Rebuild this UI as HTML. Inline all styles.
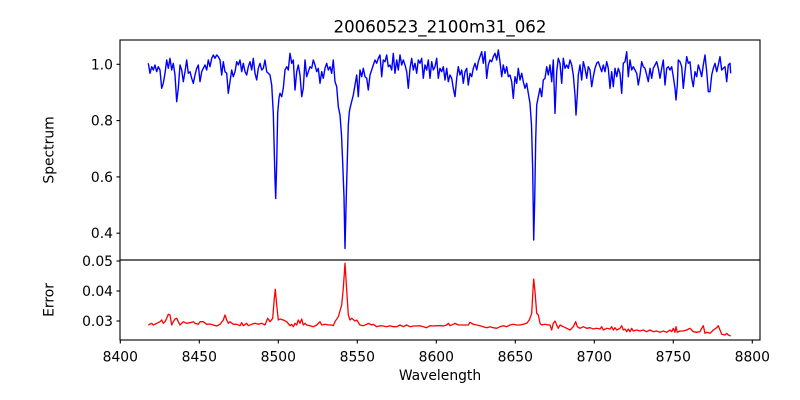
<!DOCTYPE html>
<html>
<head>
<meta charset="utf-8">
<style>
  html,body{margin:0;padding:0;background:#fff;}
  svg{display:block;}
  text{font-family:"DejaVu Sans","Liberation Sans",sans-serif;fill:#000;}
</style>
</head>
<body>
<svg width="800" height="400" viewBox="0 0 800 400" xmlns="http://www.w3.org/2000/svg">
  <rect x="0" y="0" width="800" height="400" fill="#fff"/>

  <!-- Title -->
  <text x="440" y="32.5" font-size="16.67" text-anchor="middle">20060523_2100m31_062</text>

  <!-- Spectrum line -->
  <polyline fill="none" stroke="#0000ff" stroke-width="1.4" stroke-linejoin="round" points="
148.3,63.3 150,73.3 151.7,66.7 153.3,70 155,65 156.7,71.7 158.3,66.7 160,70 161.7,88.3 163.3,83.3 165,73.3 166.7,60 168.3,68.3 170,58.3 171.7,70 173.3,63.3 175,75 176.7,101.7 178.3,88.3 180,65 181.7,70 183.3,81.7 185,71.7 186.7,60 188.3,73.3 190,71.7 191.7,78.3 193.3,83.3 195,75 196.7,68.3 198.3,65 200,81.7 201.7,71.7 203.3,68.3 205,65 206.7,70 208.3,60 210,66.7 211.7,58.3 213.3,55 215,58.3 216.7,55 218.3,56.7 220,60 221.7,75 223.3,61.7 225,71.7 226.7,73.3 228.3,93.3 230,81.7 231.7,70 233.3,76.7 235,71.7 236.7,61.7 238.3,65 240,60 241.7,71.7 243.3,63.3 245,71.7 246.7,75 248.3,66.7 250,61.7 251.7,70 253.3,58.3 255,73.3 256.7,80 258.3,68.3 260,63.3 261.7,70 263.3,68.3 265,60 266.7,71.7 268.3,73.3 270,75 271.7,85 273.3,113 275,180 275.7,198.5 276.7,163 277.7,113 279,98 280,93.3 281.7,96.7 283.3,88.3 285,70 286.7,66.7 288.3,70 290,53.3 291.7,63.3 293.3,60 295,90 296.7,71.7 298.3,65 300,75 301.7,96.7 303.3,88.3 305,60 306.7,76.7 308.3,71.7 310,66.7 311.7,68.3 313.3,60 315,65 316.7,71.7 318.3,68.3 320,83.3 321.7,71.7 323.3,78.3 325,68.3 326.7,63.3 328.3,70 330,66.7 331.7,73.3 333.3,60 335,81.7 336.7,86.7 338.3,106.7 340,115 341.5,135 342.7,163 344,197 345,248.5 346.2,200 347.3,160 348.3,125 349.3,112 350,108.3 353.3,95 356.7,75 358.3,96.7 360,70 361.7,76.7 363.3,68.3 365,76.7 366.7,78.3 368.3,90 370,75 371.7,70 373.3,65 375,60 376.7,63.3 378.3,58.3 380,55 381.7,76.7 383.3,60 385,61.7 386.7,55 388.3,66.7 390,65 391.7,70 393.3,53.3 395,73.3 396.7,60 398.3,70 400,55 401.7,65 403.3,60 405,65 406.7,71.7 408.3,88.3 410,68.3 411.7,58.3 413.3,70 415,63.3 416.7,73.3 418.3,60 420,63.3 421.7,58.3 423.3,78.3 425,65 426.7,70 428.3,60 430,78.3 431.7,61.7 433.3,70 435,66.7 436.7,58.3 438.3,78.3 440,68.3 441.7,71.7 443.3,66.7 445,80 446.7,68.3 448.3,81.7 450,75 451.7,78.3 453.3,88.3 455,96.7 456.7,78.3 458.3,66.7 460,75 461.7,70 463.3,83.3 465,71.7 466.7,68.3 468.3,85 470,73.3 471.7,76.7 473.3,68.3 475,63.3 476.7,70 478.3,61.7 480,56.7 481.7,51.7 483.3,63.3 485,51.7 486.7,78.3 488.3,65 490,60 491.7,61.7 493.3,56.7 495,53.3 496.7,60 498.3,50 500,61.7 501.7,76.7 503.3,65 505,73.3 506.7,66.7 508.3,76.7 510,75 511.7,81.7 513.3,98.3 515,76.7 516.7,83.3 518.3,68.3 520,80 521.7,73.3 523.3,81.7 525,88.3 526.7,83.3 528.3,93.3 530,103.3 531.5,125 532.7,170 533.7,240 534.7,200 535.7,140 536.7,105 538.3,96.7 540,88.3 541.7,96.7 543.3,80 545,78.3 546.7,66.7 548.3,75 550,65 551.7,81.7 553.3,60 555,113.3 556.7,71.7 558.3,58.3 560,63.3 561.7,83.3 563.3,58.3 565,68.3 566.7,65 568.3,68.3 570,60 571.7,65 573.3,75 575,95 576,115 577.3,95 578.3,75 580,65 581.7,80 583.3,61.7 585,68.3 586.7,78.3 588.3,66.7 590,70 591.7,86.7 593.3,76.7 595,68.3 596.7,63.3 598.3,61.7 600,66.7 601.7,71.7 603.3,65 605,71.7 606.7,61.7 608.3,68.3 610,88.3 611.7,71.7 613.3,86.7 615,68.3 616.7,76.7 618.3,68.3 620,73.3 621.7,93.3 623.3,63.3 625,61.7 626.7,51.7 628.3,76.7 630,60 631.7,70 633.3,66.7 635,70 636.7,73.3 638.3,85 640,75 641.7,61.7 643.3,66.7 645,68.3 646.7,75 648.3,81.7 650,68.3 651.7,78.3 653.3,68.3 655,65 656.7,61.7 658.3,68.3 660,78.3 661.7,68.3 663.3,60 665,85 666.7,68.3 668.3,66.7 670,70 671.7,66.7 673.3,76.7 675,88.3 676,100 677.3,85 678.3,60 680,61.7 681.7,66.7 683.3,88.3 685,71.7 686.7,56.7 688.3,63.3 690,61.7 691.7,78.3 693.3,86.7 695,71.7 696.7,76.7 698.3,65 700,70 701.7,76.7 703.3,65 705,55 706.7,71.7 708.3,91.7 710,91.7 711.7,75 713.3,68.3 715,63.3 716.7,71.7 718.3,65 720,56.7 721.7,70 723.3,68.3 725,66.7 726.7,81.7 728.3,65 730,63.3 730.7,73.3"/>

  <!-- Error line -->
  <polyline fill="none" stroke="#ff0000" stroke-width="1.3" stroke-linejoin="round" points="
148.3,325 151.7,323.3 153.3,325 156.7,323.3 160,321.7 161.7,320 163.3,323.3 165,321.7 166.7,318.3 168.3,314.3 170,315 171.7,325 173.3,321.7 175,319 176.7,318.3 178.3,321.7 180,325 181.7,323.3 183.3,321.7 186.7,323.3 190,322.7 193.3,321.7 195,323.3 198.3,324.3 200,321.7 203.3,321.7 206.7,324.3 210,324 213.3,325 216.7,326 220,324.3 223.3,320 225,315 226.7,320 228.3,323.3 230,321.7 233.3,324.3 236.7,324.3 240,325.7 241.7,322.7 243.3,325.7 246.7,323.3 248.3,325.7 251.7,324.3 255,323.3 258.3,324.3 261.7,323.3 265,325 267.7,318.3 270,321.7 272.7,318.3 274.3,298.3 275.3,289.3 276.7,305 278.3,320 280,319 283.3,320 286.7,321.7 290,325.7 291.7,324.3 293.3,326.7 295,323.3 296.7,325 298.3,320 300,323.3 301.7,319 303.3,325 305,323.3 306.7,325 310,325.7 313.3,326.7 316.7,325 320,321.7 321.7,325 325,324.3 328.3,325 331.7,325 333.3,325.7 335,321.7 338.3,316.7 341.7,305 343.3,288.3 345,263.3 346.7,290 348.3,315 350,320 351.7,318.3 355,321 356.7,320 360,325 363.3,325.7 366.7,324.3 368.3,323.3 371.7,325 373.3,324.3 376.7,326.7 380,325.7 383.3,326 386.7,326.7 390,325.7 393.3,326.7 396.7,326.7 400,325 403.3,326.7 406.7,325 410,326.7 413.3,326 416.7,326 420,325.7 423.3,326.7 426.7,327.7 430,325.7 433.3,326 436.7,325.7 440,325.7 443.3,326 446.7,325 448.3,323.3 450,325.7 453.3,324.3 455,323.3 458.3,325 461.7,325 465,325 468.3,325 470,322.3 473.3,324.3 476.7,325 480,325.7 483.3,326.7 486.7,327.7 490,326.7 493.3,327.7 496.7,328.3 500,326.7 503.3,325.7 506.7,326.7 510,325 513.3,324.3 516.7,325 520,325 523.3,324.3 526.7,323.3 529.3,320 531.7,313.3 532.7,295 533.7,279 535,291.7 536.7,313.3 538.3,315 540,323.3 541.7,325 545,324.3 548.3,325 550,325 551.7,330 553.3,323.3 555,321 556.7,325 558.3,328.3 560,325 563.3,326.7 566.7,328.3 570,330 573.3,326.7 575.7,321.7 577.3,326.7 580,328.3 583.3,326.7 586.7,328.3 590,327.7 593.3,329 596.7,328.3 600,329 601.7,326.7 603.3,330 606.7,328.3 610,329 611.7,326.7 613.3,330 615,327.7 616.7,330 620,328.3 621.7,325.7 623.3,330 625,329 626.7,331.7 628.3,329 630,331.7 631.7,328.3 633.3,331 636.7,330 640,331 643.3,330 646.7,331.7 650,330 653.3,331.7 656.7,331 660,332.3 663.3,331 666.7,332.3 670,330 671.7,331.7 673.3,328.3 675,332.3 676,326.7 677.3,332.3 680,331 683.3,331 686.7,330 690,328.3 691.7,330 693.3,331.7 696.7,332.3 700,331.7 701.7,328.3 703.3,325.7 705,333.3 706.7,332.3 710,333.3 711.7,331.7 713.3,330 716.7,327.7 718.3,325.7 720,330 721.7,334.3 725,335 726.7,333.3 728.3,335 730.7,336"/>

  <!-- Axes frames -->
  <rect x="120" y="40" width="640" height="220" fill="none" stroke="#000" stroke-width="1.1"/>
  <rect x="120" y="260" width="640" height="80" fill="none" stroke="#000" stroke-width="1.1"/>

  <!-- Top axes y ticks -->
  <g stroke="#000" stroke-width="1.1">
    <line x1="116.5" y1="64.3" x2="120" y2="64.3"/>
    <line x1="116.5" y1="120.6" x2="120" y2="120.6"/>
    <line x1="116.5" y1="176.9" x2="120" y2="176.9"/>
    <line x1="116.5" y1="233.2" x2="120" y2="233.2"/>
    <!-- bottom axes y ticks -->
    <line x1="116.5" y1="261" x2="120" y2="261"/>
    <line x1="116.5" y1="291" x2="120" y2="291"/>
    <line x1="116.5" y1="321" x2="120" y2="321"/>
    <!-- x ticks -->
    <line x1="120.3" y1="340" x2="120.3" y2="343.5"/>
    <line x1="199.3" y1="340" x2="199.3" y2="343.5"/>
    <line x1="278.3" y1="340" x2="278.3" y2="343.5"/>
    <line x1="357.3" y1="340" x2="357.3" y2="343.5"/>
    <line x1="436.3" y1="340" x2="436.3" y2="343.5"/>
    <line x1="515.3" y1="340" x2="515.3" y2="343.5"/>
    <line x1="594.3" y1="340" x2="594.3" y2="343.5"/>
    <line x1="673.3" y1="340" x2="673.3" y2="343.5"/>
    <line x1="752.3" y1="340" x2="752.3" y2="343.5"/>
  </g>

  <g font-size="13.89" text-anchor="end">
    <text x="113" y="69.3">1.0</text>
    <text x="113" y="125.6">0.8</text>
    <text x="113" y="181.9">0.6</text>
    <text x="113" y="238.2">0.4</text>
    <text x="113" y="266">0.05</text>
    <text x="113" y="296">0.04</text>
    <text x="113" y="326">0.03</text>
  </g>

  <g font-size="13.89" text-anchor="middle">
    <text x="120.3" y="361.5">8400</text>
    <text x="199.3" y="361.5">8450</text>
    <text x="278.3" y="361.5">8500</text>
    <text x="357.3" y="361.5">8550</text>
    <text x="436.3" y="361.5">8600</text>
    <text x="515.3" y="361.5">8650</text>
    <text x="594.3" y="361.5">8700</text>
    <text x="673.3" y="361.5">8750</text>
    <text x="752.3" y="361.5">8800</text>
  </g>

  <text x="440" y="380" font-size="13.89" text-anchor="middle">Wavelength</text>
  <text transform="translate(53.5,150) rotate(-90)" font-size="13.89" text-anchor="middle">Spectrum</text>
  <text transform="translate(53.5,300) rotate(-90)" font-size="13.89" text-anchor="middle">Error</text>
</svg>
</body>
</html>
